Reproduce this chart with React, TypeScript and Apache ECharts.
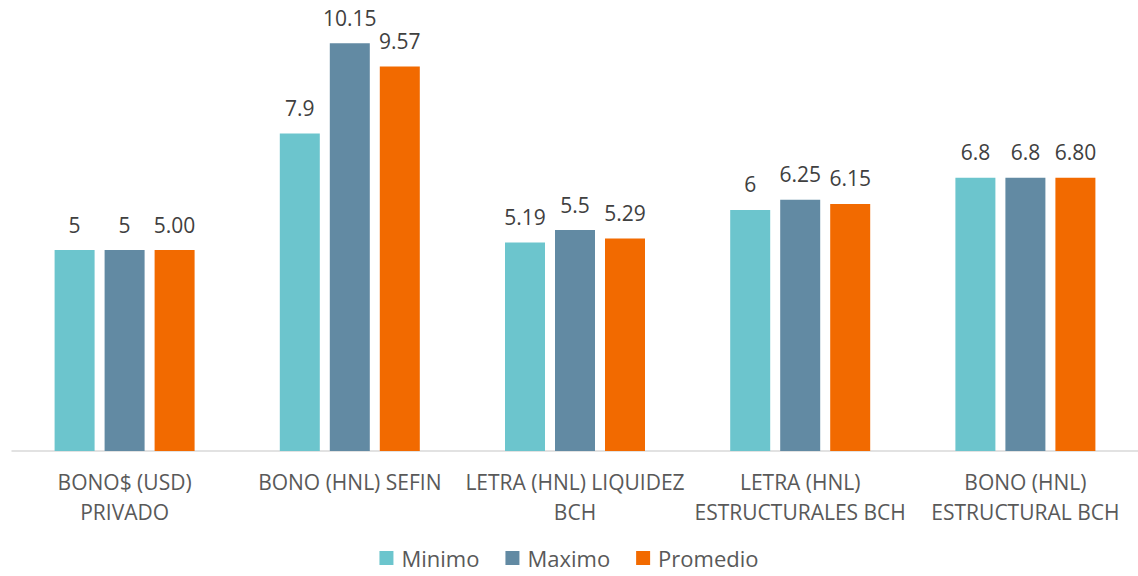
import React, { useEffect, useRef } from "react";
import * as echarts from "echarts";

const categories = [
  "BONO$ (USD)\nPRIVADO",
  "BONO (HNL) SEFIN",
  "LETRA (HNL) LIQUIDEZ\nBCH",
  "LETRA (HNL)\nESTRUCTURALES BCH",
  "BONO (HNL)\nESTRUCTURAL BCH",
];
const minimo = [5, 7.9, 5.19, 6, 6.8];
const maximo = [5, 10.15, 5.5, 6.25, 6.8];
const promedio = [5.0, 9.57, 5.29, 6.15, 6.8];

const FONT = "'Open Sans', 'Noto Sans', sans-serif";

export default function App() {
  const ref = useRef<HTMLDivElement>(null);
  useEffect(() => {
    const chart = echarts.init(ref.current!, null, { renderer: "svg" });
    const label = (fmt?: (p: any) => string) => ({
      show: true,
      position: "top" as const,
      distance: 15,
      fontSize: 21,
      fontFamily: FONT,
      color: "#404040",
      formatter: fmt,
    });
    const series = [
      { name: "Minimo", data: minimo, color: "#6CC5CD", fmt: undefined },
      { name: "Maximo", data: maximo, color: "#628AA3", fmt: undefined },
      {
        name: "Promedio",
        data: promedio,
        color: "#F26A00",
        fmt: (p: any) => Number(p.value).toFixed(2),
      },
    ].map((s) => ({
      type: "bar" as const,
      name: s.name,
      data: s.data,
      barWidth: 40,
      barGap: "25%",
      itemStyle: { color: s.color },
      label: label(s.fmt),
    }));
    chart.setOption({
      animation: false,
      grid: { left: 12, right: 0, top: 9, bottom: 125, containLabel: false },
      legend: {
        top: 542,
        left: "center",
        itemWidth: 14,
        itemHeight: 14,
        itemGap: 26,
        icon: "rect",
        textStyle: {
          fontSize: 22,
          fontFamily: FONT,
          color: "#595959",
          padding: [0, 0, 0, 3],
        },
      },
      xAxis: {
        type: "category",
        data: categories,
        axisLine: { lineStyle: { color: "#D9D9D9", width: 1.5 } },
        axisTick: { show: false },
        axisLabel: {
          fontSize: 21,
          fontFamily: FONT,
          color: "#595959",
          lineHeight: 30,
          margin: 16,
          interval: 0,
        },
      },
      yAxis: {
        type: "value",
        min: 0,
        max: 11,
        show: false,
        splitLine: { show: false },
      },
      series,
    });
    return () => chart.dispose();
  }, []);
  return (
    <div
      ref={ref}
      style={{ position: "absolute", left: 0, top: 0, width: 1138, height: 576, background: "#fff" }}
    />
  );
}
